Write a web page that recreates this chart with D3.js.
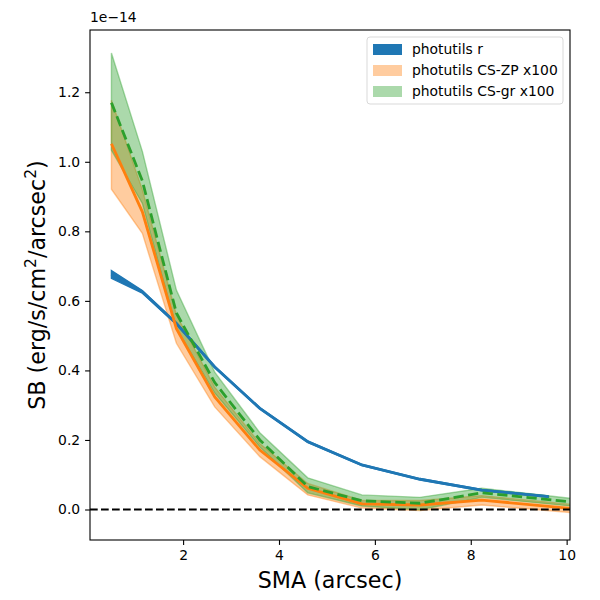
<!DOCTYPE html>
<html>
<head>
<meta charset="utf-8">
<script src="https://cdn.jsdelivr.net/npm/d3@7"></script>
<style>
  body { margin: 0; background: #fff; }
  svg text { font-family: "DejaVu Sans", sans-serif; fill: #000; }
</style>
</head>
<body>
<svg id="chart" width="600" height="600"></svg>
<script>
// SMA sampling points (arcsec)
const sma = [0.505, 1.15, 1.86, 2.66, 3.60, 4.60, 5.73, 6.94, 8.23, 9.62];
const smaCs = [0.505, 1.15, 1.86, 2.66, 3.60, 4.60, 5.73, 6.94, 8.23, 10.1];

// photutils r (units of 1e-14)
const rMid = [0.676, 0.626, 0.535, 0.410, 0.291, 0.195, 0.128, 0.087, 0.056, 0.037];
const rLow = [0.665, 0.622, 0.532, 0.408, 0.289, 0.193, 0.126, 0.085, 0.054, 0.035];
const rHigh = [0.687, 0.630, 0.538, 0.412, 0.293, 0.197, 0.130, 0.089, 0.058, 0.039];

// photutils CS-ZP x100
const zpMid = [1.052, 0.856, 0.520, 0.324, 0.171, 0.061, 0.016, 0.013, 0.027, 0.003];
const zpLow = [0.921, 0.794, 0.478, 0.295, 0.152, 0.042, 0.004, -0.003, 0.013, -0.009];
const zpHigh = [1.177, 0.920, 0.560, 0.352, 0.190, 0.075, 0.026, 0.026, 0.040, 0.015];

// photutils CS-gr x100
const grMid = [1.170, 0.945, 0.565, 0.365, 0.200, 0.066, 0.025, 0.018, 0.048, 0.022];
const grLow = [1.033, 0.880, 0.520, 0.335, 0.180, 0.048, 0.010, -0.001, 0.035, 0.010];
const grHigh = [1.313, 1.030, 0.631, 0.395, 0.221, 0.091, 0.042, 0.035, 0.061, 0.032];

const xTicks = [2, 4, 6, 8, 10];
const yTicks = [0.0, 0.2, 0.4, 0.6, 0.8, 1.0, 1.2];

const legendItems = [
    { label: "photutils r", color: "#1f77b4", opacity: 1 },
    { label: "photutils CS-ZP x100", color: "#ff7f0e", opacity: 0.4 },
    { label: "photutils CS-gr x100", color: "#2ca02c", opacity: 0.4 }
];

const margin = { top: 30, right: 30, bottom: 60, left: 90 };
const svg = d3.select("#chart");
const width = +svg.attr("width") - margin.left - margin.right;
const height = +svg.attr("height") - margin.top - margin.bottom;

const x = d3.scaleLinear().domain([0.058, 10.07]).range([0, width]);
const y = d3.scaleLinear().domain([-0.0877, 1.379]).range([height, 0]);

const g = svg.append("g").attr("transform", `translate(${margin.left},${margin.top})`);

g.append("clipPath").attr("id", "clip")
    .append("rect").attr("width", width).attr("height", height);

const plot = g.append("g").attr("clip-path", "url(#clip)");

function band(xs, lo, hi) {
    const rows = xs.map((d, i) => ({ x: d, lo: lo[i], hi: hi[i] }));
    return d3.area().x(d => x(d.x)).y0(d => y(d.lo)).y1(d => y(d.hi))(rows);
}
function line(xs, vals) {
    const rows = xs.map((d, i) => ({ x: d, v: vals[i] }));
    return d3.line().x(d => x(d.x)).y(d => y(d.v))(rows);
}

// bands (matplotlib fill_between draws an edge in the same colour)
plot.append("path").attr("d", band(sma, rLow, rHigh))
    .attr("fill", "#1f77b4").attr("stroke", "#1f77b4").attr("stroke-width", 1.4);
plot.append("path").attr("d", band(smaCs, zpLow, zpHigh))
    .attr("fill", "#ff7f0e").attr("fill-opacity", 0.4)
    .attr("stroke", "#ff7f0e").attr("stroke-opacity", 0.4).attr("stroke-width", 1.4);
plot.append("path").attr("d", band(smaCs, grLow, grHigh))
    .attr("fill", "#2ca02c").attr("fill-opacity", 0.4)
    .attr("stroke", "#2ca02c").attr("stroke-opacity", 0.4).attr("stroke-width", 1.4);

// lines
plot.append("path").attr("d", line(sma, rMid))
    .attr("fill", "none").attr("stroke", "#1f77b4").attr("stroke-width", 2.8);
plot.append("path").attr("d", line(smaCs, zpMid))
    .attr("fill", "none").attr("stroke", "#ff7f0e").attr("stroke-width", 2.8);
plot.append("path").attr("d", line(smaCs, grMid))
    .attr("fill", "none").attr("stroke", "#2ca02c").attr("stroke-width", 2.8)
    .attr("stroke-dasharray", "10.3,4.4");

// zero line
plot.append("line")
    .attr("x1", 0).attr("x2", width)
    .attr("y1", y(0)).attr("y2", y(0))
    .attr("stroke", "#000").attr("stroke-width", 2.1)
    .attr("stroke-dasharray", "7.7,3.3");

// axes
const xAxis = g.append("g").attr("transform", `translate(0,${height})`)
    .call(d3.axisBottom(x).tickValues(xTicks).tickFormat(d3.format("d")).tickSize(4.9).tickPadding(4.9));
const yAxis = g.append("g")
    .call(d3.axisLeft(y).tickValues(yTicks).tickFormat(d3.format(".1f")).tickSize(4.9).tickPadding(4.9));

[xAxis, yAxis].forEach(a => {
    a.select(".domain").remove();
    a.selectAll(".tick line").attr("stroke", "#000").attr("stroke-width", 1.1);
    a.selectAll(".tick text").attr("font-size", 13.9).attr("font-family", "DejaVu Sans");
});

// frame
g.append("rect").attr("width", width).attr("height", height)
    .attr("fill", "none").attr("stroke", "#000").attr("stroke-width", 1.1);

// offset text
g.append("text").attr("x", 0).attr("y", -8)
    .attr("font-size", 13.9).text("1e\u221214");

// axis labels
svg.append("text")
    .attr("x", margin.left + width / 2).attr("y", 588)
    .attr("text-anchor", "middle").attr("font-size", 22.2)
    .text("SMA (arcsec)");

const yl = svg.append("text")
    .attr("transform", `translate(45,${margin.top + height / 2}) rotate(-90)`)
    .attr("text-anchor", "middle").attr("font-size", 22.2);
yl.append("tspan").text("SB (erg/s/cm");
yl.append("tspan").attr("font-size", 15.5).attr("dy", -9).text("2");
yl.append("tspan").attr("dy", 9).text("/arcsec");
yl.append("tspan").attr("font-size", 15.5).attr("dy", -9).text("2");
yl.append("tspan").attr("dy", 9).text(")");

// legend
const legend = svg.append("g").attr("transform", "translate(367,37)");
legend.append("rect").attr("width", 196).attr("height", 67).attr("rx", 3)
    .attr("fill", "#fff").attr("fill-opacity", 0.8)
    .attr("stroke", "#d9d9d9").attr("stroke-width", 1);
legendItems.forEach((d, i) => {
    const row = legend.append("g").attr("transform", `translate(0,${12 + i * 21})`);
    row.append("rect").attr("x", 6).attr("y", -5).attr("width", 29).attr("height", 11)
        .attr("fill", d.color).attr("fill-opacity", d.opacity);
    row.append("text").attr("x", 45).attr("y", 5).attr("font-size", 13.9).text(d.label);
});
</script>
</body>
</html>
